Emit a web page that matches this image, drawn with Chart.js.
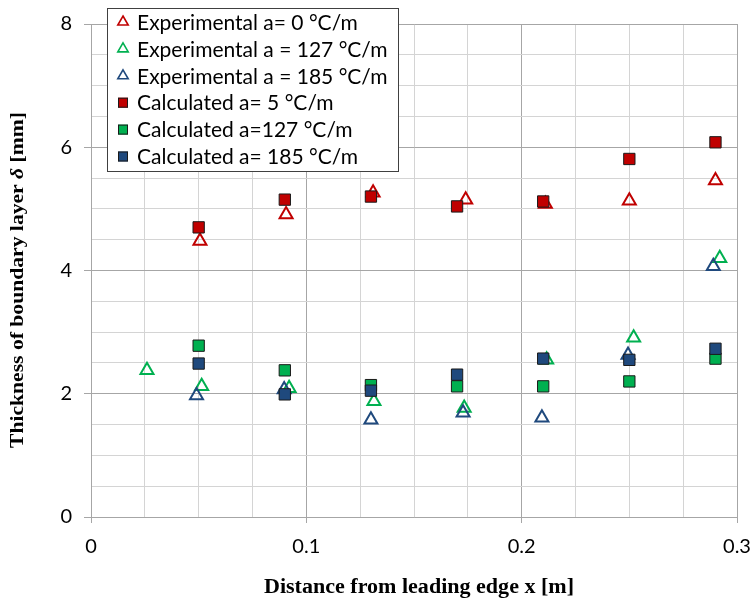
<!DOCTYPE html>
<html>
<head>
<meta charset="utf-8">
<script src="https://cdn.jsdelivr.net/npm/chart.js@4.4.1/dist/chart.umd.min.js"></script>
<style>
  html, body { margin: 0; padding: 0; background: #fff; }
</style>
</head>
<body>
<canvas id="chart" width="752" height="603"></canvas>
<script>
// measured boundary layer thickness, mm
const exp0X   = [0.0506, 0.0906, 0.131, 0.174, 0.211, 0.250, 0.290];
const exp0Y   = [4.48, 4.91, 5.26, 5.15, 5.08, 5.13, 5.46];
const exp127X = [0.026, 0.0514, 0.092, 0.1314, 0.1733, 0.2116, 0.252, 0.292];
const exp127Y = [2.38, 2.12, 2.09, 1.88, 1.77, 2.55, 2.91, 4.20];
const exp185X = [0.049, 0.0897, 0.130, 0.1728, 0.2094, 0.2494, 0.289];
const exp185Y = [1.97, 2.07, 1.58, 1.69, 1.61, 2.63, 4.07];

// model values at the measuring stations
const calcX   = [0.05, 0.09, 0.13, 0.17, 0.21, 0.25, 0.29];
const calc5   = [4.70, 5.15, 5.20, 5.04, 5.12, 5.81, 6.08];
const calc127 = [2.78, 2.38, 2.14, 2.12, 2.12, 2.20, 2.57];
const calc185 = [2.49, 1.99, 2.05, 2.31, 2.57, 2.55, 2.73];

const seriesLabels = [
  'Experimental a= 0 °C/m',
  'Experimental a = 127 °C/m',
  'Experimental a = 185 °C/m',
  'Calculated a= 5 °C/m',
  'Calculated a=127 °C/m',
  'Calculated a= 185 °C/m',
];

const RED = '#c00000', GREEN = '#00b050', BLUE = '#1f497d';
const GRID_MAJOR = '#a6a6a6', GRID_MINOR = '#d4d4d4';
const TICK_FONT = { family: 'Lato', size: 20 };

const pts = (xs, ys) => xs.map((x, i) => ({ x, y: ys[i] }));

const tri = (label, data, color, order) => ({
  label, data, order,
  pointStyle: 'triangle', pointRadius: 7.5, pointHoverRadius: 7.5,
  borderColor: color, borderWidth: 2, backgroundColor: 'rgba(0,0,0,0)',
});
const box = (label, data, color, order) => ({
  label, data, order,
  pointStyle: 'rect', pointRadius: 8, pointHoverRadius: 8,
  borderColor: '#1a1a1a', borderWidth: 1, backgroundColor: color,
});

// later series sit on top, so they get a lower order
const datasets = [
  tri(seriesLabels[0], pts(exp0X, exp0Y), RED, 5),
  tri(seriesLabels[1], pts(exp127X, exp127Y), GREEN, 4),
  tri(seriesLabels[2], pts(exp185X, exp185Y), BLUE, 3),
  box(seriesLabels[3], pts(calcX, calc5), RED, 2),
  box(seriesLabels[4], pts(calcX, calc127), GREEN, 1),
  box(seriesLabels[5], pts(calcX, calc185), BLUE, 0),
];

const isMajorX = v => Math.abs(v * 10 - Math.round(v * 10)) < 1e-6;
const isMajorY = v => Math.abs(v / 2 - Math.round(v / 2)) < 1e-6;

function drawMarker(ctx, ds, cx, cy) {
  ctx.save();
  if (ds.pointStyle === 'triangle') {
    const r = 6;
    ctx.beginPath();
    ctx.moveTo(cx, cy - r);
    ctx.lineTo(cx + r * 0.866, cy + r / 2);
    ctx.lineTo(cx - r * 0.866, cy + r / 2);
    ctx.closePath();
    ctx.strokeStyle = ds.borderColor; ctx.lineWidth = 1.6;
    ctx.stroke();
  } else {
    ctx.fillStyle = ds.backgroundColor;
    ctx.fillRect(cx - 5, cy - 5, 10, 10);
    ctx.strokeStyle = '#1a1a1a'; ctx.lineWidth = 1;
    ctx.strokeRect(cx - 4.5, cy - 4.5, 9, 9);
  }
  ctx.restore();
}

const legendBox = {
  id: 'legendBox',
  afterDatasetsDraw(chart) {
    const ctx = chart.ctx;
    ctx.save();
    ctx.fillStyle = '#fff';
    ctx.fillRect(107, 8, 291, 164);
    ctx.strokeStyle = '#404040'; ctx.lineWidth = 1;
    ctx.strokeRect(107.5, 8.5, 291, 163);
    ctx.font = '21px Lato';
    ctx.fillStyle = '#000';
    ctx.textBaseline = 'middle';
    chart.data.datasets.forEach((ds, i) => {
      const cy = 22 + i * 26.9;
      drawMarker(ctx, ds, 123, cy);
      ctx.fillText(ds.label, 137, cy + 1);
    });
    ctx.restore();
  }
};

// fits a run of text pieces to a given width along the current baseline
function fitPieces(ctx, pieces, width) {
  let total = 0;
  pieces.forEach(p => { ctx.font = p.font; total += ctx.measureText(p.text).width; });
  const k = width / total;
  ctx.scale(k, 1);
  let x = -total / 2;
  pieces.forEach(p => {
    ctx.font = p.font;
    ctx.fillText(p.text, x, 0);
    x += ctx.measureText(p.text).width;
  });
}

const axisTitles = {
  id: 'axisTitles',
  afterDraw(chart) {
    const ctx = chart.ctx;
    const serif = '"Liberation Serif", "DejaVu Serif", serif';
    ctx.save();
    ctx.fillStyle = '#000';
    ctx.textBaseline = 'middle';
    ctx.translate(419, 588);
    fitPieces(ctx, [{ text: 'Distance from leading edge x [m]', font: `bold 20px ${serif}` }], 310);
    ctx.restore();

    ctx.save();
    ctx.fillStyle = '#000';
    ctx.textBaseline = 'middle';
    ctx.translate(18, 280);
    ctx.rotate(-Math.PI / 2);
    fitPieces(ctx, [
      { text: 'Thickness of boundary layer ', font: `bold 19px ${serif}` },
      { text: 'δ', font: `italic bold 19px ${serif}` },
      { text: ' [mm]', font: `bold 19px ${serif}` },
    ], 336);
    ctx.restore();
  }
};

new Chart(document.getElementById('chart'), {
  type: 'scatter',
  data: { datasets },
  plugins: [legendBox, axisTitles],
  options: {
    responsive: false,
    animation: false,
    devicePixelRatio: 1,
    layout: { padding: { top: 15, right: 15, left: 0, bottom: 0 } },
    plugins: { legend: { display: false }, tooltip: { enabled: false } },
    scales: {
      x: {
        type: 'linear', min: 0, max: 0.3,
        afterFit: s => { s.height = 86; s.paddingRight = 0; s.paddingLeft = 0; },
        ticks: {
          stepSize: 0.025, autoSkip: false, maxRotation: 0,
          color: '#000', font: TICK_FONT, padding: 12,
          callback: v => isMajorX(v) ? String(Math.round(v * 10) / 10) : '',
        },
        grid: {
          color: c => isMajorX(c.tick.value) ? GRID_MAJOR : GRID_MINOR,
          tickColor: c => isMajorX(c.tick.value) ? GRID_MAJOR : 'rgba(0,0,0,0)',
          tickLength: 6,
        },
        border: { color: GRID_MAJOR },
      },
      y: {
        type: 'linear', min: 0, max: 8,
        afterFit: s => { s.width = 91; },
        ticks: {
          stepSize: 0.5, autoSkip: false,
          color: '#000', font: TICK_FONT, padding: 12,
          callback: v => isMajorY(v) ? String(v) : '',
        },
        grid: {
          color: c => isMajorY(c.tick.value) ? GRID_MAJOR : GRID_MINOR,
          tickColor: c => isMajorY(c.tick.value) ? GRID_MAJOR : 'rgba(0,0,0,0)',
          tickLength: 7,
        },
        border: { color: GRID_MAJOR },
      },
    },
  },
});
</script>
</body>
</html>
